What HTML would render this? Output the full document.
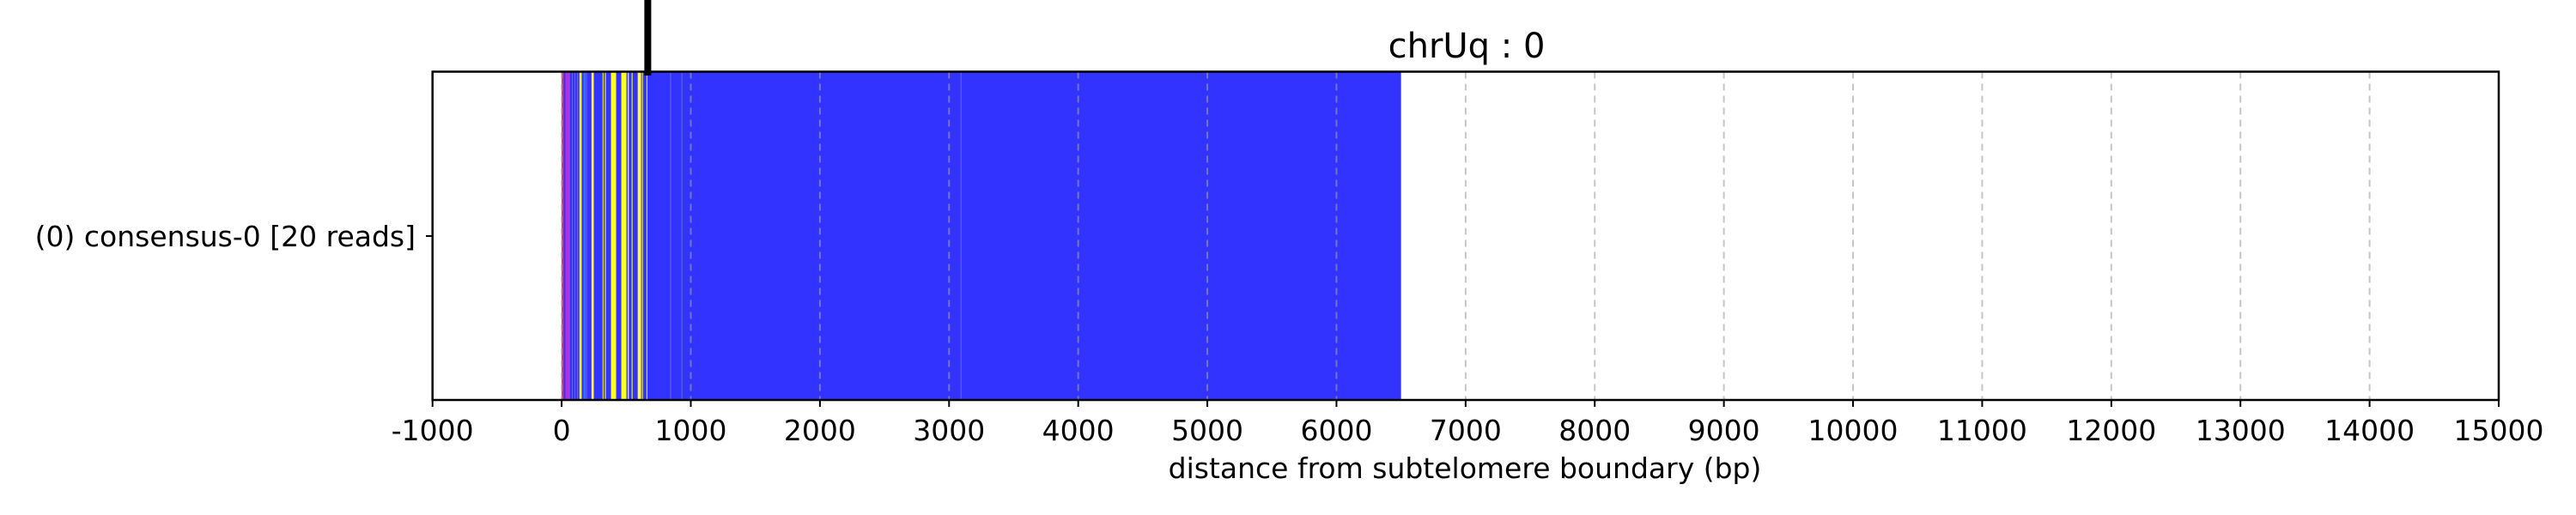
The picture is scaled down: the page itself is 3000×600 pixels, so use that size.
<!DOCTYPE html>
<html><head><meta charset="utf-8"><style>
html,body{margin:0;padding:0;background:#fff;}
svg{display:block;font-family:"DejaVu Sans","Liberation Sans",sans-serif;}
</style></head><body>
<svg id="chart" width="3000" height="600" viewBox="0 0 3000 600" xmlns="http://www.w3.org/2000/svg">
<rect x="0" y="0" width="3000" height="600" fill="#fff"/>
<g id="bars"></g>
<g id="grid"></g>
<rect x="503.7" y="83.5" width="2406.3" height="382.5" fill="none" stroke="#000" stroke-width="2.5"/>
<g id="xticks"></g>
<line x1="503.7" y1="275" x2="496" y2="275" stroke="#000" stroke-width="2"/>
<text x="484" y="287" font-size="33" text-anchor="end">(0) consensus-0 [20 reads]</text>
<text x="1708" y="67" font-size="40" text-anchor="middle">chrUq : 0</text>
<text x="1706" y="557" font-size="33" text-anchor="middle">distance from subtelomere boundary (bp)</text>
<g id="marker"></g>
</svg>
<script>
const segStarts = [0, 2, 29, 60, 82, 102, 120, 135, 140, 171, 182, 191, 231, 317, 335, 382, 462, 511, 542, 589, 622, 657, 842, 929, 3090];
const segEnds   = [6500, 15, 60, 64, 85, 105, 123, 138, 155, 175, 185, 194, 249, 324, 342, 422, 502, 520, 549, 615, 629, 664, 846, 933, 3094];
const segColors = ["#3333ff","#ff3333","#aa33dd","#ff3377","#8888cc","#8888cc","#8888cc","#8888cc","#ffff22","#33ccff","#8888cc","#8888cc","#ffff22","#ffff22","#ffff22","#ffff22","#ffff22","#ffff22","#ffff22","#ffff22","#ffff22","#ffff22","#8888cc","#8888cc","#8888cc"];
const tickValues = [-1000,0,1000,2000,3000,4000,5000,6000,7000,8000,9000,10000,11000,12000,13000,14000,15000];
const tickLabels = ["-1000","0","1000","2000","3000","4000","5000","6000","7000","8000","9000","10000","11000","12000","13000","14000","15000"];
const markerValue = [667];
const xMin=-1000, xMax=15000, plotLeft=503.7, plotRight=2910, plotTop=83.5, plotBottom=466;
const NS="http://www.w3.org/2000/svg";
function xs(v){return plotLeft+(v-xMin)/(xMax-xMin)*(plotRight-plotLeft);}
const bars=document.getElementById('bars');
for(let i=0;i<segStarts.length;i++){
  const r=document.createElementNS(NS,'rect');
  r.setAttribute('x',xs(segStarts[i]));
  r.setAttribute('y',plotTop);
  r.setAttribute('width',Math.max(0.6,xs(segEnds[i])-xs(segStarts[i])));
  r.setAttribute('height',plotBottom-plotTop);
  r.setAttribute('fill',segColors[i]);
  
  
  bars.appendChild(r);
}
const grid=document.getElementById('grid');
const xt=document.getElementById('xticks');
tickValues.forEach((v,i)=>{
  const x=xs(v);
  if(v>=0&&v<15000){
    const g=document.createElementNS(NS,'line');
    g.setAttribute('x1',x);g.setAttribute('x2',x);g.setAttribute('y1',plotTop);g.setAttribute('y2',plotBottom);
    g.setAttribute('stroke','rgba(160,160,160,0.6)');g.setAttribute('stroke-width','2');g.setAttribute('stroke-dasharray','8,6');
    
    
    grid.appendChild(g);
  }
  const t=document.createElementNS(NS,'line');
  t.setAttribute('x1',x);t.setAttribute('x2',x);t.setAttribute('y1',plotBottom);t.setAttribute('y2',plotBottom+8);
  t.setAttribute('stroke','#000');t.setAttribute('stroke-width','2');
  
  
  xt.appendChild(t);
  const l=document.createElementNS(NS,'text');
  l.setAttribute('x',x);l.setAttribute('y',513);l.setAttribute('font-size','33');l.setAttribute('text-anchor','middle');
  l.textContent=tickLabels[i];
  
  
  xt.appendChild(l);
});
const mk=document.getElementById('marker');
markerValue.forEach(v=>{
  const m=document.createElementNS(NS,'rect');
  m.setAttribute('x',xs(v)-4);m.setAttribute('y',0);m.setAttribute('width',8);m.setAttribute('height',88);m.setAttribute('fill','#000');
  
  
  mk.appendChild(m);
});
</script>
</body></html>
